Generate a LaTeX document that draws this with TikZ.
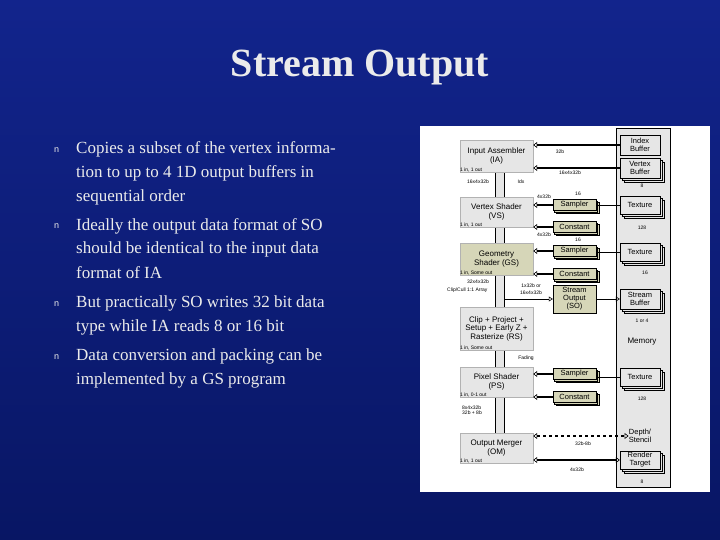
\documentclass[tikz,border=0pt]{standalone}
\usepackage{fontspec}
\setmainfont{Liberation Serif}
\newfontfamily\dsans{Liberation Sans}
\usetikzlibrary{arrows.meta,shadows}
\definecolor{bgtop}{RGB}{18,36,140}
\definecolor{bgbot}{RGB}{8,22,100}
\definecolor{txt}{RGB}{235,235,235}
\definecolor{gbox}{RGB}{230,230,230}
\definecolor{greenbox}{RGB}{214,214,184}
\begin{document}
\begin{tikzpicture}[x=1pt,y=-1pt,
  bl/.style={anchor=base west,text=txt,inner sep=0pt,font=\fontsize{17}{20}\selectfont},
  bm/.style={anchor=base west,text=txt,inner sep=0pt,font=\fontsize{9}{10}\dsans},
  stage/.style={draw=gray!60,fill=gbox,minimum width=73pt,align=center,inner sep=0pt,font=\fontsize{8}{8.5}\dsans},
  memone/.style={draw=black,fill=gbox,minimum width=40pt,align=center,inner sep=0pt,font=\fontsize{7.5}{8}\dsans},
  mem/.style={memone,double copy shadow={shadow xshift=2pt,shadow yshift=-2pt}},
  samp/.style={draw=black,fill=greenbox,minimum width=43pt,minimum height=11pt,inner sep=0pt,font=\fontsize{7.5}{8}\dsans},
  sampc/.style={samp,double copy shadow={shadow xshift=1.5pt,shadow yshift=-1.5pt}},
  tiny/.style={inner sep=0pt,font=\fontsize{5}{5.5}\dsans},
  pipe/.style={draw=black,line width=0.6pt},
  oarr/.style={draw=black,line width=1.2pt,-{Triangle[open,length=4pt,width=6pt,line width=0.6pt]}},
  oboth/.style={draw=black,line width=1.2pt,{Triangle[open,length=4pt,width=6pt,line width=0.6pt]}-{Triangle[open,length=4pt,width=6pt,line width=0.6pt]}},
]
\useasboundingbox (0,0) rectangle (720,540);
\shade[top color=bgtop,bottom color=bgbot] (0,0) rectangle (720,540);
\node[text=txt,font=\fontsize{40}{44}\bfseries] (title) at (360,68) {Stream Output};
% bullets
\node[bm] (b1) at (54,153) {n};
\node[bm] (b2) at (54,229) {n};
\node[bm] (b3) at (54,306) {n};
\node[bm] (b4) at (54,359) {n};
\node[bl] (t1) at (76,154) {Copies a subset of the vertex informa-};
\node[bl] (t2) at (76,178) {tion to up to 4 1D output buffers in};
\node[bl] (t3) at (76,202) {sequential order};
\node[bl] (t4) at (76,230) {Ideally the output data format of SO};
\node[bl] (t5) at (76,254) {should be identical to the input data};
\node[bl] (t6) at (76,278) {format of IA};
\node[bl] (t7) at (76,307) {But practically SO writes 32 bit data};
\node[bl] (t8) at (76,331) {type while IA reads 8 or 16 bit};
\node[bl] (t9) at (76,360) {Data conversion and packing can be};
\node[bl] (t10) at (76,384) {implemented by a GS program};
% diagram panel
\fill[white] (420,126) rectangle (710,492);
\draw[fill=gbox] (616,128) rectangle (670,487);
\fill[gbox,draw=black] (495,172) rectangle (504,433);
% stages
\node[stage,minimum height=32pt] (ia) at (496.5,156) {Input Assembler\\(IA)};
\node[stage,minimum height=30pt] (vs) at (496.5,212) {Vertex Shader\\(VS)};
\node[stage,minimum height=32pt,fill=greenbox] (gs) at (496.5,259) {Geometry\\Shader (GS)};
\node[stage,minimum height=43pt] (rs) at (496.5,328.5) {Clip + Project +\\Setup + Early Z +\\Rasterize (RS)};
\node[stage,minimum height=30pt] (ps) at (496.5,382) {Pixel Shader\\(PS)};
\node[stage,minimum height=30pt] (om) at (496.5,448) {Output Merger\\(OM)};
\node[tiny,anchor=south west] (ial) at (ia.south west) {1 in, 1 out};
\node[tiny,anchor=south west] (vsl) at (vs.south west) {1 in, 1 out};
\node[tiny,anchor=south west] (gsl) at (gs.south west) {1 in, Some out};
\node[tiny,anchor=south west] (rsl) at (rs.south west) {1 in, Some out};
\node[tiny,anchor=south west] (psl) at (ps.south west) {1 in, 0-1 out};
\node[tiny,anchor=south west] (oml) at (om.south west) {1 in, 1 out};
% memory
\node[memone,minimum height=20pt] (ib) at (640,145) {Index\\Buffer};
\node[mem,minimum height=20pt] (vb) at (640,168) {Vertex\\Buffer};
\node[mem,minimum height=18pt] (tx1) at (640,205) {Texture};
\node[mem,minimum height=18pt] (tx2) at (640,252) {Texture};
\node[mem,minimum height=20pt] (sb) at (640,299) {Stream\\Buffer};
\node[tiny,font=\fontsize{8}{8}\dsans] (memo) at (642,342) {Memory};
\node[mem,minimum height=18pt] (tx3) at (640,377) {Texture};
\node[draw=none,align=center,inner sep=0pt,font=\fontsize{7.5}{8}\dsans] (ds) at (640,436) {Depth/\\Stencil};
\node[mem,minimum height=18pt] (rt) at (640,460) {Render\\Target};
\node[tiny] (n1) at (642,186) {8};
\node[tiny] (n2) at (642,228) {128};
\node[tiny] (n3) at (645,273) {16};
\node[tiny] (n4) at (642,321) {1 or 4};
\node[tiny] (n5) at (642,399) {128};
\node[tiny] (n6) at (642,482) {8};
% samplers
\node[sampc] (s1) at (574.5,205) {Sampler};
\node[sampc] (c1) at (574.5,227) {Constant};
\node[sampc] (s2) at (574.5,251) {Sampler};
\node[sampc] (c2) at (574.5,274) {Constant};
\node[samp,minimum height=28pt,align=center] (so) at (574.5,299) {Stream\\Output\\(SO)};
\node[sampc] (s3) at (574.5,374) {Sampler};
\node[sampc] (c3) at (574.5,397) {Constant};
% arrows to stages
\draw[oarr] (ib.west) -- (ia.east |- ib.west);
\draw[oarr] (vb.west) -- (ia.east |- vb.west);
\draw[oarr] (s1.west) -- (vs.east |- s1.west);
\draw[oarr] (c1.west) -- (vs.east |- c1.west);
\draw[oarr] (s2.west) -- (gs.east |- s2.west);
\draw[oarr] (c2.west) -- (gs.east |- c2.west);
\draw[oarr] (s3.west) -- (ps.east |- s3.west);
\draw[oarr] (c3.west) -- (ps.east |- c3.west);
\draw[pipe] (tx1.west) -- (s1.east |- tx1.west);
\draw[pipe] (tx2.west) -- (s2.east |- tx2.west);
\draw[pipe] (tx3.west) -- (s3.east |- tx3.west);
\coordinate (sov) at (504,299);
\draw[pipe,-{Triangle[open,length=4pt,width=5pt]}] (sov) -- (so.west);
\draw[pipe,-{Triangle[open,length=4pt,width=5pt]}] (so.east) -- (sb.west);
\draw[oboth,dashed] (om.east |- ds.west) -- (ds.west);
\draw[oboth] (om.east |- rt.west) -- (rt.west);
% labels
\node[tiny] (l1) at (560,152) {32b};
\node[tiny] (l2) at (570,173) {16x4x32b};
\node[tiny] (l3) at (478,182) {16x4x32b};
\node[tiny] (l4) at (521,182) {Idx};
\node[tiny] (l5) at (544,197) {4x32b};
\node[tiny] (l6) at (578,194) {16};
\node[tiny] (l7) at (544,235) {4x32b};
\node[tiny] (l8) at (578,240) {16};
\node[tiny] (l9) at (478,282) {32x4x32b};
\node[tiny] (l10) at (531,286) {1x32b or};
\node[tiny] (l11) at (531,293) {16x4x32b};
\node[tiny,anchor=west] (l12) at (447,290) {Clip/Cull 1:1 Array};
\node[tiny] (l13) at (526,358) {Fading};
\node[tiny,align=left,anchor=west] (l14) at (462,410) {8x4x32b\\32b + 8b};
\node[tiny] (l15) at (583,444) {32b-8b};
\node[tiny] (l16) at (577,470) {4x32b};
\end{tikzpicture}
\end{document}
